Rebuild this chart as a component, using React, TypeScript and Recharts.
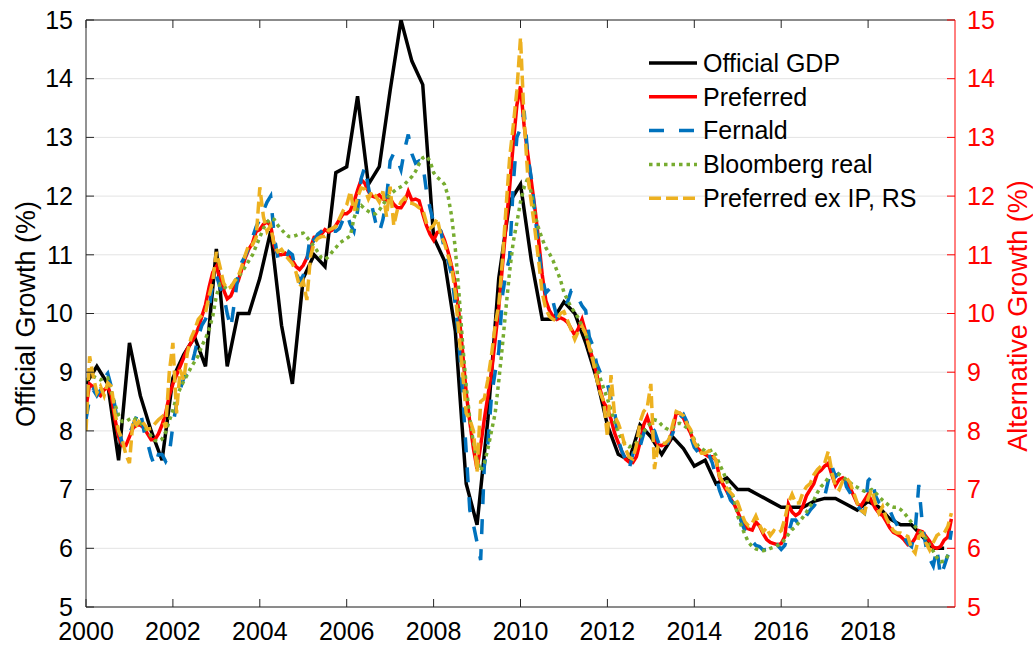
import React from 'react';
import { LineChart, Line, XAxis, YAxis, CartesianGrid, ReferenceLine } from 'recharts';

const FONT = '"Liberation Sans", Arial, Helvetica, sans-serif';
const AXIS = '#262626';
const RIGHT_AXIS = '#FF0000';
const W = 1033;
const H = 647;
// plot box (left/right y axis widths and x axis height follow from these)
const PLOT = { left: 86, right: 955, top: 20, bottom: 607 };

const START_YEAR = 2000;
const X_TICKS = [2000, 2002, 2004, 2006, 2008, 2010, 2012, 2014, 2016, 2018];
const Y_TICKS = [5, 6, 7, 8, 9, 10, 11, 12, 13, 14, 15];

// quarterly, Q1..Q4 per year 2000-2019
const OFFICIAL_GDP = [
  [8.8, 9.1, 8.8, 7.5], [9.5, 8.6, 8.0, 7.5], [8.9, 9.3, 9.6, 9.1], [11.1, 9.1, 10.0, 10.0],
  [10.6, 11.4, 9.8, 8.8], [10.6, 11.0, 10.8, 12.4], [12.5, 13.7, 12.2, 12.5], [13.8, 15.0, 14.3, 13.9],
  [11.3, 10.9, 9.7, 7.1], [6.4, 8.2, 10.6, 11.9], [12.2, 10.9, 9.9, 9.9], [10.2, 10.0, 9.5, 8.9],
  [8.1, 7.6, 7.5, 8.1], [7.9, 7.6, 7.9, 7.7], [7.4, 7.5, 7.1, 7.2], [7.0, 7.0, 6.9, 6.8],
  [6.7, 6.7, 6.7, 6.8], [6.85, 6.85, 6.75, 6.65], [6.8, 6.7, 6.5, 6.4], [6.4, 6.2, 6.0, 6.0],
];

// monthly, one row per year 2000-2019
const PREFERRED = [
  [8.4, 8.8, 8.75, 8.65, 8.6, 8.7, 8.75, 8.6, 8.2, 7.9, 7.75, 7.75],
  [7.9, 8.05, 8.1, 8.1, 8.05, 7.95, 7.85, 7.85, 7.95, 8.1, 8.3, 8.6],
  [8.8, 8.95, 9.1, 9.25, 9.4, 9.5, 9.6, 9.75, 9.95, 10.15, 10.45, 10.7],
  [10.8, 10.6, 10.4, 10.25, 10.3, 10.45, 10.55, 10.75, 10.95, 11.1, 11.2, 11.4],
  [11.43, 11.52, 11.56, 11.5, 11.15, 11.0, 11.0, 11.03, 10.98, 10.9, 10.8, 10.75],
  [10.82, 10.95, 11.12, 11.3, 11.31, 11.35, 11.43, 11.39, 11.42, 11.5, 11.6, 11.7],
  [11.7, 11.75, 11.9, 12.1, 12.28, 12.22, 12.08, 12.0, 11.98, 12.02, 11.95, 11.93],
  [11.96, 11.86, 11.8, 11.8, 11.9, 12.08, 11.93, 11.95, 11.92, 11.7, 11.5, 11.35],
  [11.25, 11.38, 11.4, 11.25, 11.05, 10.8, 10.5, 10.0, 9.35, 8.65, 8.15, 7.7],
  [7.35, 7.75, 8.2, 8.6, 9.0, 9.55, 10.1, 10.8, 11.5, 12.15, 12.9, 13.55],
  [13.87, 13.2, 12.72, 12.25, 11.78, 11.25, 10.66, 10.22, 10.05, 9.95, 9.9, 9.93],
  [9.9, 9.85, 9.74, 9.63, 9.75, 9.9, 9.68, 9.42, 9.22, 8.98, 8.7, 8.48],
  [8.38, 8.2, 7.96, 7.8, 7.65, 7.52, 7.47, 7.46, 7.56, 7.8, 8.1, 8.24],
  [8.05, 7.85, 7.76, 7.75, 7.78, 7.82, 8.0, 8.3, 8.3, 8.22, 8.08, 7.96],
  [7.8, 7.7, 7.64, 7.6, 7.56, 7.56, 7.5, 7.2, 7.08, 6.97, 6.85, 6.75],
  [6.62, 6.47, 6.36, 6.33, 6.31, 6.45, 6.38, 6.25, 6.15, 6.1, 6.08, 6.06],
  [6.08, 6.2, 6.75, 6.62, 6.56, 6.6, 6.72, 6.9, 7.0, 7.1, 7.28, 7.33],
  [7.4, 7.45, 7.25, 7.07, 7.17, 7.2, 7.12, 7.03, 6.9, 6.76, 6.72, 6.82],
  [6.92, 6.8, 6.68, 6.6, 6.56, 6.46, 6.35, 6.27, 6.24, 6.2, 6.14, 6.06],
  [6.08, 6.17, 6.3, 6.28, 6.2, 6.12, 6.02, 6.0, 6.03, 6.14, 6.19, 6.5],
];

const FERNALD = [
  [8.2, 8.55, 8.7, 8.6, 8.7, 8.9, 8.98, 8.75, 8.42, 8.0, 7.8, 7.8],
  [7.95, 8.1, 8.25, 8.35, 8.0, 7.8, 7.56, 7.4, 7.6, 7.6, 7.48, 7.6],
  [8.1, 8.45, 8.7, 8.9, 8.98, 9.08, 9.32, 9.6, 9.8, 9.9, 10.08, 10.5],
  [10.65, 10.45, 10.32, 10.0, 9.75, 10.2, 10.65, 10.87, 10.98, 11.12, 11.3, 11.48],
  [11.6, 11.75, 11.9, 12.0, 11.3, 10.95, 10.87, 10.9, 11.05, 11.0, 10.7, 10.55],
  [10.65, 10.9, 11.35, 11.25, 11.35, 11.4, 11.45, 11.48, 11.4, 11.4, 11.45, 11.6],
  [11.7, 11.52, 11.4, 11.75, 12.3, 12.5, 12.15, 11.82, 11.55, 11.38, 11.6, 11.95],
  [12.6, 12.73, 12.62, 12.45, 12.8, 13.05, 12.72, 12.56, 12.6, 12.55, 12.1, 11.8],
  [11.55, 11.55, 11.4, 11.1, 10.9, 10.65, 10.15, 9.5, 8.65, 7.65, 6.65, 6.4],
  [6.1, 5.8, 7.4, 7.8, 8.6, 9.0, 9.35, 10.3, 10.7, 10.95, 12.2, 13.0],
  [13.15, 13.45, 12.7, 12.3, 11.7, 11.1, 10.6, 10.35, 10.42, 10.2, 9.95, 10.05],
  [10.08, 10.2, 10.39, 10.39, 10.25, 10.13, 10.05, 9.6, 9.45, 9.15, 9.0, 8.85],
  [8.8, 8.55, 8.33, 7.85, 7.65, 7.52, 7.35, 7.6, 7.78, 7.73, 7.95, 8.12],
  [8.07, 8.0, 7.82, 7.68, 7.72, 7.85, 7.95, 8.13, 8.22, 8.28, 8.15, 7.9],
  [7.72, 7.64, 7.63, 7.68, 7.6, 7.45, 7.2, 6.98, 6.82, 7.0, 6.82, 6.75],
  [6.7, 6.45, 6.3, 6.17, 6.12, 6.05, 6.03, 5.97, 5.98, 6.03, 5.97, 6.05],
  [5.98, 6.05, 6.25, 6.48, 6.48, 6.4, 6.45, 6.56, 6.65, 6.72, 6.8, 6.85],
  [6.88, 7.15, 7.4, 7.22, 7.28, 7.34, 7.05, 6.95, 6.82, 6.73, 6.65, 6.6],
  [7.15, 7.22, 6.9, 6.78, 6.72, 6.7, 6.65, 6.5, 6.4, 6.26, 6.18, 6.08],
  [6.03, 6.3, 7.08, 6.4, 6.03, 5.82, 5.7, 6.0, 5.52, 5.69, 5.88, 6.3],
];

const BLOOMBERG_REAL = [
  [8.87, 8.9, 8.93, 8.9, 8.87, 8.9, 8.9, 8.67, 8.45, 8.27, 8.16, 8.16],
  [8.2, 8.23, 8.19, 8.13, 8.06, 8.0, 7.91, 7.84, 7.82, 7.86, 7.98, 8.17],
  [8.35, 8.58, 8.72, 8.85, 8.96, 9.08, 9.18, 9.28, 9.45, 9.57, 9.73, 9.95],
  [10.3, 10.5, 10.46, 10.42, 10.45, 10.55, 10.62, 10.7, 10.8, 10.9, 11.0, 11.15],
  [11.3, 11.45, 11.55, 11.62, 11.6, 11.5, 11.43, 11.36, 11.31, 11.31, 11.33, 11.36],
  [11.37, 11.3, 11.22, 11.14, 11.05, 10.95, 10.92, 10.97, 11.05, 11.12, 11.2, 11.24],
  [11.28, 11.32, 11.62, 11.8, 11.84, 11.78, 11.74, 11.7, 11.7, 11.76, 11.85, 11.95],
  [12.03, 12.08, 12.13, 12.16, 12.2, 12.27, 12.33, 12.42, 12.55, 12.65, 12.68, 12.6],
  [12.4, 12.32, 12.27, 12.2, 12.0, 11.65, 11.1, 10.35, 9.5, 8.77, 8.2, 7.8],
  [7.5, 7.32, 7.45, 7.7, 8.0, 8.3, 8.85, 9.45, 10.1, 10.72, 11.22, 11.55],
  [11.9, 12.15, 12.3, 12.05, 11.68, 11.45, 11.27, 11.12, 11.02, 10.9, 10.74, 10.58],
  [10.36, 10.23, 10.1, 10.02, 9.92, 9.78, 9.65, 9.47, 9.25, 9.08, 8.9, 8.72],
  [8.55, 8.35, 8.15, 7.98, 7.85, 7.77, 7.73, 7.75, 7.8, 7.9, 7.98, 8.07],
  [8.13, 8.19, 8.17, 8.1, 8.05, 8.02, 8.05, 8.12, 8.13, 8.1, 8.05, 8.0],
  [7.85, 7.75, 7.7, 7.66, 7.65, 7.68, 7.58, 7.43, 7.3, 7.14, 6.97, 6.85],
  [6.55, 6.38, 6.23, 6.1, 6.03, 5.99, 5.97, 5.96, 5.97, 6.0, 6.02, 6.05],
  [6.08, 6.15, 6.24, 6.32, 6.37, 6.45, 6.53, 6.62, 6.72, 6.82, 6.95, 7.05],
  [7.11, 7.2, 7.25, 7.28, 7.26, 7.22, 7.17, 7.12, 7.07, 7.04, 7.0, 6.97],
  [6.97, 7.0, 6.95, 6.88, 6.82, 6.77, 6.72, 6.7, 6.7, 6.66, 6.6, 6.52],
  [6.44, 6.37, 6.3, 6.25, 6.17, 6.05, 5.95, 5.84, 5.77, 5.78, 5.87, 5.92],
];

const PREFERRED_EX_IP_RS = [
  [8.0, 9.27, 8.93, 8.65, 8.76, 8.6, 8.82, 8.76, 8.3, 8.0, 7.85, 7.6],
  [7.45, 8.2, 8.1, 8.2, 8.12, 8.03, 8.04, 8.12, 8.19, 8.24, 8.05, 9.0],
  [9.5, 8.3, 9.04, 8.87, 9.33, 9.58, 9.72, 9.9, 9.97, 10.01, 10.3, 10.55],
  [11.05, 10.8, 10.52, 10.42, 10.45, 10.55, 10.63, 10.8, 11.0, 11.18, 11.17, 11.3],
  [12.15, 11.65, 11.4, 11.5, 11.15, 11.05, 11.09, 11.0, 10.92, 10.85, 10.7, 10.45],
  [10.55, 10.23, 10.97, 11.2, 11.28, 11.31, 11.31, 11.42, 11.45, 11.48, 11.62, 11.75],
  [11.85, 12.08, 11.75, 11.98, 12.14, 12.12, 11.95, 12.08, 12.0, 11.9, 12.08, 11.65],
  [12.16, 11.5, 11.77, 11.9, 11.97, 11.88, 11.88, 11.85, 11.8, 11.77, 11.55, 11.45],
  [11.5, 11.62, 11.33, 11.2, 10.98, 10.78, 10.35, 9.65, 9.0, 8.3, 8.2, 8.0],
  [7.3, 8.5, 8.55, 8.88, 9.3, 9.8, 10.15, 10.9, 11.8, 12.65, 13.2, 13.8],
  [14.7, 13.3, 12.35, 11.88, 11.42, 10.9, 10.35, 10.08, 9.95, 9.9, 9.88, 10.0],
  [10.03, 9.88, 9.72, 9.56, 9.7, 9.78, 9.65, 9.42, 9.2, 8.9, 8.65, 8.5],
  [7.9, 8.95, 8.25, 8.13, 7.95, 7.7, 7.55, 7.52, 7.75, 8.15, 8.33, 8.4],
  [8.8, 7.35, 7.75, 7.79, 7.79, 7.85, 8.1, 8.33, 8.3, 8.26, 8.12, 8.02],
  [7.8, 7.7, 7.62, 7.62, 7.66, 7.6, 7.5, 7.22, 7.12, 7.02, 6.95, 6.88],
  [6.78, 6.6, 6.45, 6.38, 6.43, 6.55, 6.4, 6.28, 6.35, 6.22, 6.3, 6.26],
  [6.3, 6.5, 6.78, 6.92, 6.77, 6.77, 6.95, 7.05, 7.1, 7.25, 7.34, 7.4],
  [7.45, 7.65, 7.3, 7.05, 7.0, 7.15, 7.2, 7.12, 6.95, 6.77, 6.65, 6.6],
  [6.85, 7.0, 6.77, 6.6, 6.71, 6.52, 6.4, 6.3, 6.26, 6.26, 6.23, 6.2],
  [6.0, 5.92, 6.2, 6.25, 6.09, 5.97, 6.1, 6.22, 6.26, 6.26, 6.37, 6.6],
];

const SERIES = [
  { key: 'official', name: 'Official GDP', color: '#000000', dash: undefined as string | undefined, axis: 'left' },
  { key: 'preferred', name: 'Preferred', color: '#FF0000', dash: undefined, axis: 'right' },
  { key: 'fernald', name: 'Fernald', color: '#0072BD', dash: '15 15', axis: 'right' },
  { key: 'bloomberg', name: 'Bloomberg real', color: '#77AC30', dash: '3.5 4', axis: 'right' },
  { key: 'prefEx', name: 'Preferred ex IP, RS', color: '#EDB120', dash: '12 5', axis: 'right' },
];

const official = OFFICIAL_GDP.flat();
const pref = PREFERRED.flat();
const fern = FERNALD.flat();
const bloom = BLOOMBERG_REAL.flat();
const prefEx = PREFERRED_EX_IP_RS.flat();

const data = pref.map((v, i) => ({
  x: START_YEAR + i / 12,
  official: i % 3 === 0 ? official[i / 3] : null,
  preferred: v,
  fernald: fern[i],
  bloomberg: bloom[i],
  prefEx: prefEx[i],
}));

const LeftTick = (props: any) => {
  const { y, payload } = props;
  return (
    <g>
      <line x1={PLOT.left} x2={PLOT.left + 8} y1={y} y2={y} stroke={AXIS} />
      <text x={PLOT.left - 13} y={y} dy="0.35em" textAnchor="end" fontSize={25} fontFamily={FONT} fill="#000">
        {payload.value}
      </text>
    </g>
  );
};

const RightTick = (props: any) => {
  const { y, payload } = props;
  return (
    <g>
      <line x1={PLOT.right - 8} x2={PLOT.right} y1={y} y2={y} stroke={RIGHT_AXIS} />
      <text x={PLOT.right + 12} y={y} dy="0.35em" textAnchor="start" fontSize={25} fontFamily={FONT} fill={RIGHT_AXIS}>
        {payload.value}
      </text>
    </g>
  );
};

const BottomTick = (props: any) => {
  const { x, payload } = props;
  return (
    <g>
      <line x1={x} x2={x} y1={PLOT.bottom} y2={PLOT.bottom - 8} stroke={AXIS} />
      <line x1={x} x2={x} y1={PLOT.top} y2={PLOT.top + 8} stroke={AXIS} />
      <text x={x} y={PLOT.bottom + 33} textAnchor="middle" fontSize={25} fontFamily={FONT} fill="#000">
        {payload.value}
      </text>
    </g>
  );
};

const AxisTitle = ({ cx, cy, text, fill }: { cx: number; cy: number; text: string; fill: string }) => (
  <text
    x={cx}
    y={cy}
    transform={`rotate(-90, ${cx}, ${cy})`}
    textAnchor="middle"
    dominantBaseline="central"
    fontSize={27}
    fontFamily={FONT}
    fill={fill}
  >
    {text}
  </text>
);

const Legend = () => (
  <svg width={W} height={H} style={{ position: 'absolute', left: 0, top: 0, pointerEvents: 'none' }}>
    {SERIES.map((s, i) => {
      const y = 63 + i * 33.8;
      return (
        <g key={s.key}>
          <line x1={649} x2={697} y1={y} y2={y} stroke={s.color} strokeWidth={3.5} strokeDasharray={s.dash} />
          <text x={703} y={y} dy="0.35em" fontSize={25} fontFamily={FONT} fill="#000">
            {s.name}
          </text>
        </g>
      );
    })}
  </svg>
);

export default function App() {
  return (
    <div style={{ position: 'absolute', left: 0, top: 0, width: W, height: H, background: '#fff' }}>
      <LineChart width={W} height={H} data={data} margin={{ top: PLOT.top, right: 0, bottom: 0, left: 0 }}>
        <CartesianGrid yAxisId="left" horizontal vertical={false} stroke="#e3e3e3" strokeWidth={1} />
        <XAxis
          dataKey="x"
          type="number"
          domain={[2000, 2020]}
          ticks={X_TICKS}
          interval={0}
          height={H - PLOT.bottom}
          tickLine={false}
          axisLine={{ stroke: AXIS }}
          tick={<BottomTick />}
          allowDataOverflow
        />
        <YAxis
          yAxisId="left"
          domain={[5, 15]}
          ticks={Y_TICKS}
          interval={0}
          width={PLOT.left}
          tickLine={false}
          axisLine={{ stroke: AXIS }}
          tick={<LeftTick />}
          allowDataOverflow
          label={<AxisTitle cx={26} cy={314} text="Official Growth (%)" fill="#000" />}
        />
        <YAxis
          yAxisId="right"
          orientation="right"
          domain={[5, 15]}
          ticks={Y_TICKS}
          interval={0}
          width={W - PLOT.right}
          tickLine={false}
          axisLine={{ stroke: RIGHT_AXIS }}
          tick={<RightTick />}
          allowDataOverflow
          label={<AxisTitle cx={1018} cy={316} text="Alternative Growth (%)" fill={RIGHT_AXIS} />}
        />
        <ReferenceLine yAxisId="left" y={15} stroke={AXIS} />
        {SERIES.map((s) => (
          <Line
            key={s.key}
            yAxisId={s.axis}
            dataKey={s.key}
            name={s.name}
            type="linear"
            stroke={s.color}
            strokeWidth={3.5}
            strokeDasharray={s.dash}
            dot={false}
            activeDot={false}
            connectNulls
            isAnimationActive={false}
          />
        ))}
      </LineChart>
      <Legend />
    </div>
  );
}
